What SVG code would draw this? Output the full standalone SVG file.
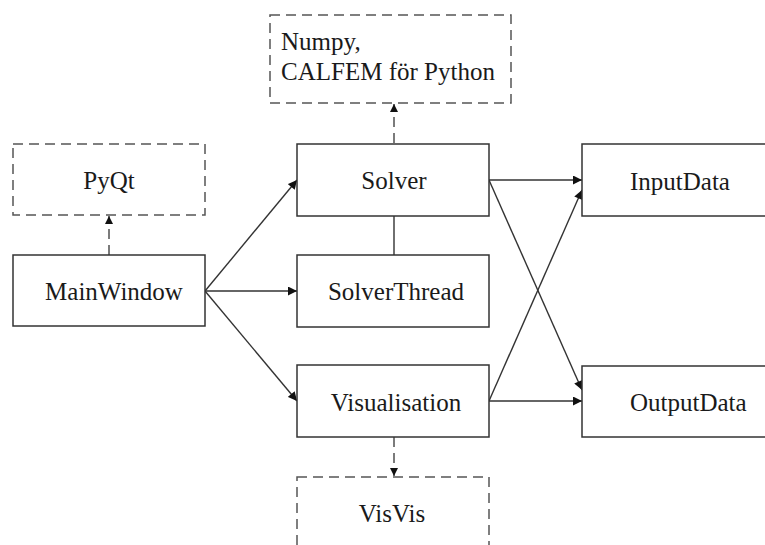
<svg xmlns="http://www.w3.org/2000/svg" width="765" height="545" viewBox="0 0 765 545">
<style>
.box{fill:#fff;stroke:#333;stroke-width:1.5}
.ext{fill:#fff;stroke:#555;stroke-width:1.5;stroke-dasharray:10 6}
.t{font-family:'Liberation Serif','DejaVu Serif',serif;font-size:25px;fill:#1a1a1a}
.c{text-anchor:middle}
.ln{stroke:#333;stroke-width:1.4;fill:none}
.dl{stroke:#444;stroke-width:1.4;fill:none;stroke-dasharray:10 6}
</style>
<defs>
<marker id="ah" viewBox="0 0 10 10" refX="10" refY="5" markerWidth="10" markerHeight="9" markerUnits="userSpaceOnUse" orient="auto">
<path d="M0,0 L10,5 L0,10 z" fill="#111"/>
</marker>
<marker id="ahs" viewBox="0 0 10 10" refX="10" refY="5" markerWidth="8" markerHeight="8" markerUnits="userSpaceOnUse" orient="auto">
<path d="M0,0 L10,5 L0,10 z" fill="#111"/>
</marker>
</defs>
<g id="connectors">
<line class="dl" x1="394" y1="143" x2="394" y2="104" marker-end="url(#ahs)"/>
<line class="dl" x1="109" y1="255" x2="109" y2="216" marker-end="url(#ahs)"/>
<line class="dl" x1="394" y1="437" x2="394" y2="476" marker-end="url(#ahs)"/>
<line class="ln" x1="394" y1="216" x2="394" y2="255"/>
<line class="ln" x1="205" y1="291" x2="297" y2="180" marker-end="url(#ah)"/>
<line class="ln" x1="205" y1="291" x2="297" y2="291" marker-end="url(#ah)"/>
<line class="ln" x1="205" y1="291" x2="297" y2="401" marker-end="url(#ah)"/>
<line class="ln" x1="489" y1="180" x2="582" y2="180" marker-end="url(#ah)"/>
<line class="ln" x1="489" y1="180" x2="582" y2="390" marker-end="url(#ah)"/>
<line class="ln" x1="489" y1="401" x2="582" y2="190" marker-end="url(#ah)"/>
<line class="ln" x1="489" y1="401" x2="582" y2="401" marker-end="url(#ah)"/>
</g>
<g id="numpy">
<rect class="ext" x="270" y="15" width="241" height="88"/>
<text class="t" x="281" y="50">Numpy,</text>
<text class="t" x="281" y="80">CALFEM för Python</text>
</g>
<g id="pyqt">
<rect class="ext" x="13" y="144" width="192" height="71"/>
<text class="t c" x="109" y="189">PyQt</text>
</g>
<g id="mainwindow">
<rect class="box" x="13" y="255" width="192" height="71"/>
<text class="t c" x="114" y="300">MainWindow</text>
</g>
<g id="solver">
<rect class="box" x="297" y="144" width="192" height="72"/>
<text class="t c" x="394" y="189">Solver</text>
</g>
<g id="solverthread">
<rect class="box" x="297" y="255" width="192" height="72"/>
<text class="t c" x="396" y="300">SolverThread</text>
</g>
<g id="visualisation">
<rect class="box" x="297" y="365" width="192" height="72"/>
<text class="t c" x="396" y="411">Visualisation</text>
</g>
<g id="visvis">
<rect class="ext" x="297" y="477" width="192" height="90"/>
<text class="t c" x="392" y="522">VisVis</text>
</g>
<g id="inputdata">
<rect class="box" x="582" y="144" width="200" height="72"/>
<text class="t" x="630" y="190">InputData</text>
</g>
<g id="outputdata">
<rect class="box" x="582" y="366" width="200" height="71"/>
<text class="t" x="630" y="411">OutputData</text>
</g>
</svg>
